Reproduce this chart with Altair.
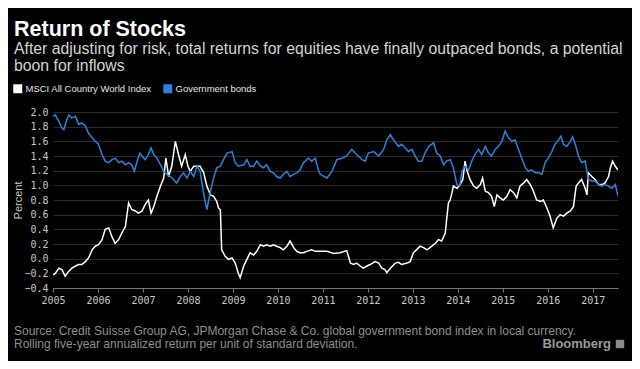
import altair as alt
import pandas as pd

stocks_t = [2005.0, 2005.05, 2005.13, 2005.20, 2005.27, 2005.35, 2005.42, 2005.50, 2005.57, 2005.64, 2005.72, 2005.79, 2005.87, 2005.94, 2006.01, 2006.09, 2006.16, 2006.24, 2006.31, 2006.38, 2006.46, 2006.53, 2006.61, 2006.68, 2006.75, 2006.83, 2006.90, 2006.98, 2007.05, 2007.12, 2007.18, 2007.24, 2007.31, 2007.39, 2007.46, 2007.51, 2007.57, 2007.64, 2007.72, 2007.79, 2007.86, 2007.94, 2008.0, 2008.05, 2008.13, 2008.20, 2008.27, 2008.35, 2008.42, 2008.50, 2008.57, 2008.64, 2008.68, 2008.72, 2008.75, 2008.83, 2008.90, 2008.98, 2009.05, 2009.12, 2009.16, 2009.24, 2009.31, 2009.38, 2009.46, 2009.53, 2009.61, 2009.68, 2009.75, 2009.83, 2009.90, 2009.97, 2010.05, 2010.12, 2010.20, 2010.27, 2010.35, 2010.42, 2010.49, 2010.57, 2010.64, 2010.75, 2010.83, 2010.94,
            2011.09, 2011.24, 2011.38, 2011.53, 2011.61, 2011.68, 2011.75, 2011.83, 2011.90, 2011.98, 2012.05, 2012.16, 2012.24, 2012.31, 2012.38, 2012.42, 2012.50, 2012.61, 2012.68, 2012.75, 2012.87, 2012.94, 2013.01, 2013.08, 2013.16, 2013.24, 2013.31, 2013.38, 2013.50, 2013.57, 2013.64, 2013.72, 2013.75, 2013.79, 2013.83, 2013.87, 2013.90, 2013.98, 2014.05, 2014.11, 2014.16, 2014.20, 2014.27, 2014.35, 2014.42, 2014.50, 2014.55, 2014.61, 2014.68, 2014.75, 2014.81, 2014.87, 2014.94, 2015.01, 2015.09, 2015.16, 2015.24, 2015.31, 2015.38, 2015.46, 2015.53, 2015.61, 2015.68, 2015.75, 2015.83, 2015.90, 2015.98, 2016.05, 2016.12, 2016.20, 2016.27, 2016.35, 2016.42, 2016.50, 2016.57, 2016.63, 2016.68, 2016.75, 2016.83, 2016.87, 2016.90, 2016.98, 2017.05, 2017.13, 2017.20, 2017.27, 2017.35, 2017.39, 2017.44, 2017.50, 2017.56]
stocks_v = [-0.22, -0.20, -0.13, -0.15, -0.24, -0.17, -0.13, -0.10, -0.08, -0.08, -0.04, 0.01, 0.12, 0.17, 0.19, 0.26, 0.40, 0.42, 0.30, 0.21, 0.26, 0.35, 0.44, 0.76, 0.67, 0.65, 0.62, 0.65, 0.74, 0.80, 0.62, 0.71, 0.85, 0.99, 1.10, 1.37, 1.12, 1.26, 1.60, 1.42, 1.26, 1.42, 1.26, 1.19, 1.26, 1.26, 1.26, 1.17, 0.99, 0.87, 0.85, 0.78, 0.69, 0.67, 0.12, 0.03, -0.01, 0.01, -0.06, -0.20, -0.26, -0.10, -0.01, 0.08, 0.05, 0.10, 0.19, 0.17, 0.19, 0.17, 0.19, 0.17, 0.15, 0.12, 0.17, 0.24, 0.15, 0.10, 0.08, 0.08, 0.10, 0.12, 0.10, 0.10,
            0.10, 0.07, 0.08, 0.11, -0.06, -0.08, -0.06, -0.10, -0.13, -0.10, -0.08, -0.04, -0.06, -0.13, -0.15, -0.19, -0.13, -0.06, -0.05, -0.08, -0.06, -0.04, 0.08, 0.12, 0.17, 0.15, 0.12, 0.15, 0.21, 0.26, 0.24, 0.35, 0.53, 0.76, 0.80, 0.90, 0.99, 0.96, 1.01, 1.08, 1.33, 1.21, 1.08, 0.99, 0.96, 1.01, 1.10, 0.92, 0.90, 0.85, 0.71, 0.87, 0.83, 0.80, 0.85, 0.94, 0.90, 0.83, 0.99, 1.03, 1.08, 1.01, 0.92, 0.80, 0.78, 0.80, 0.69, 0.58, 0.42, 0.55, 0.60, 0.58, 0.62, 0.65, 0.71, 0.99, 1.03, 1.08, 0.96, 0.87, 1.17, 1.12, 1.08, 1.01, 1.01, 1.03, 1.12, 1.24, 1.33, 1.26, 1.21]

bonds_t = [2005.0, 2005.05, 2005.13, 2005.20, 2005.24, 2005.31, 2005.35, 2005.42, 2005.50, 2005.57, 2005.64, 2005.72, 2005.79, 2005.87, 2005.94, 2006.01, 2006.09, 2006.16, 2006.24, 2006.31, 2006.38, 2006.46, 2006.53, 2006.61, 2006.68, 2006.75, 2006.81, 2006.87, 2006.93, 2006.98, 2007.05, 2007.12, 2007.18, 2007.24, 2007.31, 2007.39, 2007.46, 2007.53, 2007.61, 2007.68, 2007.75, 2007.83, 2007.90, 2007.98, 2008.05, 2008.13, 2008.20, 2008.27, 2008.31, 2008.36, 2008.42, 2008.46, 2008.51, 2008.57, 2008.64, 2008.72, 2008.79, 2008.87, 2008.98, 2009.05, 2009.12, 2009.24, 2009.31, 2009.38, 2009.46, 2009.53, 2009.61, 2009.68, 2009.75, 2009.83, 2009.90, 2009.97, 2010.05, 2010.12, 2010.20, 2010.27, 2010.35, 2010.42, 2010.49, 2010.57, 2010.64, 2010.68, 2010.75, 2010.83, 2010.90, 2010.94,
           2011.09, 2011.20, 2011.31, 2011.42, 2011.53, 2011.64, 2011.75, 2011.87, 2011.94, 2012.01, 2012.13, 2012.24, 2012.35, 2012.42, 2012.50, 2012.57, 2012.68, 2012.75, 2012.83, 2012.90, 2012.98, 2013.05, 2013.12, 2013.20, 2013.27, 2013.35, 2013.46, 2013.53, 2013.61, 2013.68, 2013.75, 2013.83, 2013.90, 2013.98, 2014.04, 2014.09, 2014.16, 2014.24, 2014.31, 2014.38, 2014.46, 2014.53, 2014.61, 2014.68, 2014.75, 2014.83, 2014.90, 2014.98, 2015.05, 2015.12, 2015.20, 2015.27, 2015.35, 2015.42, 2015.50, 2015.57, 2015.64, 2015.72, 2015.79, 2015.87, 2015.94, 2016.01, 2016.09, 2016.16, 2016.24, 2016.29, 2016.35, 2016.42, 2016.50, 2016.55, 2016.61, 2016.68, 2016.75, 2016.83, 2016.90, 2016.98, 2017.05, 2017.13, 2017.20, 2017.27, 2017.35, 2017.42, 2017.50, 2017.56]
bonds_v = [1.94, 1.96, 1.87, 1.78, 1.76, 1.90, 1.96, 1.92, 1.94, 1.83, 1.85, 1.81, 1.71, 1.65, 1.60, 1.56, 1.42, 1.33, 1.31, 1.35, 1.37, 1.31, 1.33, 1.28, 1.31, 1.28, 1.19, 1.33, 1.44, 1.40, 1.35, 1.42, 1.51, 1.42, 1.37, 1.28, 1.19, 1.15, 1.12, 1.08, 1.03, 1.12, 1.17, 1.10, 1.19, 1.12, 1.26, 1.19, 1.03, 0.85, 0.67, 0.80, 0.94, 1.10, 1.24, 1.26, 1.35, 1.44, 1.46, 1.31, 1.26, 1.28, 1.35, 1.26, 1.26, 1.33, 1.26, 1.24, 1.28, 1.19, 1.17, 1.12, 1.10, 1.15, 1.19, 1.12, 1.15, 1.17, 1.21, 1.31, 1.35, 1.37, 1.33, 1.37, 1.21, 1.15,
           1.10, 1.19, 1.35, 1.37, 1.40, 1.49, 1.42, 1.35, 1.33, 1.44, 1.46, 1.40, 1.49, 1.62, 1.69, 1.62, 1.53, 1.56, 1.51, 1.46, 1.49, 1.40, 1.33, 1.33, 1.44, 1.53, 1.58, 1.44, 1.40, 1.28, 1.33, 1.35, 1.24, 1.01, 0.99, 1.19, 1.26, 1.21, 1.33, 1.42, 1.49, 1.42, 1.53, 1.44, 1.40, 1.49, 1.53, 1.60, 1.74, 1.65, 1.60, 1.62, 1.49, 1.37, 1.24, 1.19, 1.21, 1.17, 1.17, 1.15, 1.31, 1.37, 1.46, 1.56, 1.62, 1.67, 1.56, 1.53, 1.60, 1.66, 1.56, 1.40, 1.31, 1.33, 1.08, 1.06, 1.06, 1.01, 0.99, 1.01, 0.99, 0.96, 1.01, 0.85]

series_names = ["MSCI All Country World Index", "Government bonds"]
series_colors = ["#ffffff", "#2b83dc"]
year_ticks = list(range(2005, 2018))
y_ticks = [-0.4, -0.2, 0.0, 0.2, 0.4, 0.6, 0.8, 1.0, 1.2, 1.4, 1.6, 1.8, 2.0]

title_text = "Return of Stocks"
subtitle_lines = ["After adjusting for risk, total returns for equities have finally outpaced bonds, a potential",
                  "boon for inflows"]
source_lines = ["Source: Credit Suisse Group AG, JPMorgan Chase & Co. global government bond index in local currency.",
                "Rolling five-year annualized return per unit of standard deviation."]

df = pd.concat([
    pd.DataFrame({"t": stocks_t, "v": stocks_v, "series": series_names[0]}),
    pd.DataFrame({"t": bonds_t, "v": bonds_v, "series": series_names[1]}),
])

W, H = 565, 176
SANS = "Liberation Sans, Arial"
MONO = "DejaVu Sans Mono"

lines = alt.Chart(df).mark_line(strokeWidth=1.5, clip=True).encode(
    x=alt.X("t:Q", scale=alt.Scale(domain=[2005, 2017.56], nice=False, zero=False),
            axis=alt.Axis(values=year_ticks, format="d", grid=False, title=None,
                          labelFont=MONO, labelFontSize=10, labelColor="#c8c8c8",
                          labelPadding=3, tickSize=4, tickColor="#777", domainColor="#777",
                          labelFlush=False)),
    y=alt.Y("v:Q", scale=alt.Scale(domain=[-0.4, 2.0], nice=False, zero=False),
            axis=alt.Axis(values=y_ticks, format=".1f", grid=True, gridColor="#2a2a2a",
                          domain=False, ticks=False, title="Percent", titleFont=SANS,
                          titleFontSize=11, titleFontWeight="normal", titleColor="#c8c8c8",
                          titlePadding=0, labelFont=MONO, labelFontSize=10,
                          labelColor="#c8c8c8", labelPadding=5)),
    color=alt.Color("series:N", scale=alt.Scale(domain=series_names, range=series_colors),
                    sort=series_names,
                    legend=alt.Legend(orient="none", legendX=-40, legendY=-28, direction="horizontal",
                                      title=None, symbolType="square", symbolSize=20,
                                      symbolStrokeWidth=4.5, labelFont=SANS, labelFontSize=9.5,
                                      labelColor="#e6e6e6", columnPadding=4, labelOffset=3,
                                      padding=0)),
    order="series:N",
)

def txt(s, x, y, size, color, weight="normal", align="left"):
    return alt.Chart(pd.DataFrame({"s": [s]})).mark_text(
        align=align, baseline="alphabetic", fontSize=size, font=SANS, color=color,
        fontWeight=weight).encode(text="s:N", x=alt.value(x), y=alt.value(y))

texts = [
    txt(title_text, -39, -76, 21.5, "#ffffff", "bold"),
    txt(subtitle_lines[0], -39, -58, 15.8, "#d4d4d4"),
    txt(subtitle_lines[1], -39, -41, 15.8, "#d4d4d4"),
    txt(source_lines[0], -39, 223, 12, "#8f8f8f"),
    txt(source_lines[1], -39, 236, 12, "#8f8f8f"),
    txt("Bloomberg", 558, 236, 13, "#9a9a9a", "bold", "right"),
]
logo = alt.Chart(pd.DataFrame({"s": [1]})).mark_square(size=70, color="#8a8a8a", opacity=1).encode(
    x=alt.value(567), y=alt.value(232))

chart = alt.layer(lines, *texts, logo).properties(
    width=W, height=H,
    background="#000000",
    padding={"left": 45, "top": 104, "right": 14, "bottom": 73},
    autosize=alt.AutoSizeParams(type="none"),
).configure_view(stroke=None)

chart.save("out.html", embed_options={"renderer": "svg", "actions": False})
